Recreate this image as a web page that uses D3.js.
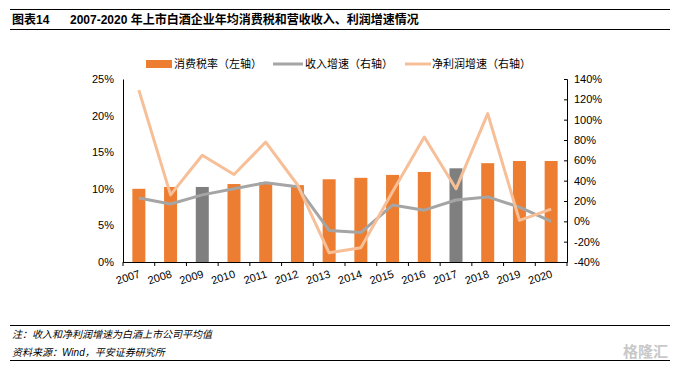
<!DOCTYPE html>
<html>
<head>
<meta charset="utf-8">
<script src="https://cdn.jsdelivr.net/npm/d3@7"></script>
<style>
body { margin: 0; background: #fff; }
text { font-family: "Liberation Sans", Arial, "Noto Sans CJK SC", sans-serif; }
</style>
</head>
<body>
<div id="chart"></div>
<script>
// data
var years = ["2007","2008","2009","2010","2011","2012","2013","2014","2015","2016","2017","2018","2019","2020"];
var taxRate = [10.0, 10.25, 10.25, 10.65, 10.9, 10.5, 11.3, 11.5, 11.9, 12.3, 12.8, 13.5, 13.8, 13.8];
var revGrowth = [23, 17, 26, 32, 38, 34, -9, -11, 16, 11, 21, 24, 14, 0];
var profitGrowth = [129, 26, 65, 46, 78, 36, -31, -26, 29, 83, 32, 106, 1, 12];
var grayYears = ["2009", "2017"];
var leftTicks = [0, 5, 10, 15, 20, 25];
var rightTicks = [-40, -20, 0, 20, 40, 60, 80, 100, 120, 140];

var W = 679, H = 373;
var m = {top: 79, right: 112, bottom: 111, left: 123};
var w = W - m.left - m.right;
var h = H - m.top - m.bottom;

var svg = d3.select("#chart").append("svg")
	.attr("width", W)
	.attr("height", H);

// title
svg.append("line").attr("x1", 10).attr("x2", 670).attr("y1", 9.5).attr("y2", 9.5)
	.attr("stroke", "#000").attr("stroke-width", 1);
svg.append("line").attr("x1", 10).attr("x2", 670).attr("y1", 29.5).attr("y2", 29.5)
	.attr("stroke", "#000").attr("stroke-width", 1);
svg.append("text").attr("x", 12).attr("y", 24)
	.attr("font-size", 12).attr("font-weight", "bold")
	.text("图表14");
svg.append("text").attr("x", 70).attr("y", 24)
	.attr("font-size", 12).attr("font-weight", "bold")
	.text("2007-2020 年上市白酒企业年均消费税和营收收入、利润增速情况");

// scales
var x = d3.scaleBand().domain(years).range([0, w]);
var yL = d3.scaleLinear().domain([0, 25]).range([h, 0]);
var yR = d3.scaleLinear().domain([-40, 140]).range([h, 0]);

var g = svg.append("g").attr("transform", "translate(" + m.left + "," + m.top + ")");

// bars
var barW = 13;
g.append("g").selectAll("rect")
	.data(years)
	.enter().append("rect")
	.attr("x", function(d) {return x(d) + x.bandwidth() / 2 - barW / 2;})
	.attr("y", function(d, i) {return yL(taxRate[i]);})
	.attr("width", barW)
	.attr("height", function(d, i) {return h - yL(taxRate[i]);})
	.attr("fill", function(d) {return grayYears.indexOf(d) >= 0 ? "#7f7f7f" : "#ed7d31";});

// lines
var line = d3.line()
	.x(function(d, i) {return x(years[i]) + x.bandwidth() / 2;})
	.y(function(d) {return yR(d);});

g.append("path").datum(revGrowth)
	.attr("d", line)
	.attr("fill", "none")
	.attr("stroke", "#a5a5a5")
	.attr("stroke-width", 3)
	.attr("stroke-linejoin", "round");

g.append("path").datum(profitGrowth)
	.attr("d", line)
	.attr("fill", "none")
	.attr("stroke", "#f7bf98")
	.attr("stroke-width", 3)
	.attr("stroke-linejoin", "round");

// axes
var axL = g.append("g")
	.call(d3.axisLeft(yL).tickValues(leftTicks).tickSize(0).tickPadding(9)
		.tickFormat(function(d) {return d + "%";}));
axL.select(".domain").attr("stroke", "#000");
axL.selectAll("text").attr("font-size", 11).attr("fill", "#000");

var axR = g.append("g").attr("transform", "translate(" + w + ",0)")
	.call(d3.axisRight(yR).tickValues(rightTicks).tickSize(-3).tickPadding(7)
		.tickFormat(function(d) {return d + "%";}));
axR.select(".domain").attr("stroke", "#000");
axR.selectAll("text").attr("font-size", 11).attr("fill", "#000");

var axB = g.append("g").attr("transform", "translate(0," + h + ")");
axB.append("line").attr("x1", 0).attr("x2", w).attr("y1", 0.5).attr("y2", 0.5).attr("stroke", "#000");
axB.selectAll(".tk")
	.data(d3.range(years.length + 1))
	.enter().append("line")
	.attr("x1", function(d) {return d * x.step();})
	.attr("x2", function(d) {return d * x.step();})
	.attr("y1", 0).attr("y2", 4)
	.attr("stroke", "#000");
axB.selectAll(".lbl")
	.data(years)
	.enter().append("text")
	.attr("transform", function(d) {
		return "translate(" + (x(d) + x.bandwidth() / 2 + 2) + ",15) rotate(-18)";
	})
	.attr("text-anchor", "end")
	.attr("font-size", 11)
	.text(function(d) {return d;});

// legend
var lg = svg.append("g").attr("transform", "translate(0,64)");
lg.append("rect").attr("x", 146).attr("y", -4).attr("width", 26).attr("height", 8).attr("fill", "#ed7d31");
lg.append("text").attr("x", 174).attr("y", 4).attr("font-size", 11).text("消费税率（左轴）");
lg.append("line").attr("x1", 273).attr("x2", 303).attr("y1", 0).attr("y2", 0)
	.attr("stroke", "#a5a5a5").attr("stroke-width", 3);
lg.append("text").attr("x", 305).attr("y", 4).attr("font-size", 11).text("收入增速（右轴）");
lg.append("line").attr("x1", 405).attr("x2", 431).attr("y1", 0).attr("y2", 0)
	.attr("stroke", "#f7bf98").attr("stroke-width", 3);
lg.append("text").attr("x", 432).attr("y", 4).attr("font-size", 11).text("净利润增速（右轴）");

// footer
svg.append("line").attr("x1", 10).attr("x2", 670).attr("y1", 325.5).attr("y2", 325.5).attr("stroke", "#000");
svg.append("line").attr("x1", 10).attr("x2", 670).attr("y1", 360.5).attr("y2", 360.5).attr("stroke", "#000");
svg.append("text").attr("x", 12).attr("y", 338).attr("font-size", 10).attr("font-style", "italic")
	.text("注：收入和净利润增速为白酒上市公司平均值");
svg.append("text").attr("x", 12).attr("y", 356).attr("font-size", 10).attr("font-style", "italic")
	.text("资料来源：Wind，平安证券研究所");
svg.append("text").attr("x", 668).attr("y", 357).attr("text-anchor", "end")
	.attr("font-size", 15).attr("fill", "#c8c8c8").attr("font-weight", "bold")
	.text("格隆汇");
</script>
</body>
</html>
